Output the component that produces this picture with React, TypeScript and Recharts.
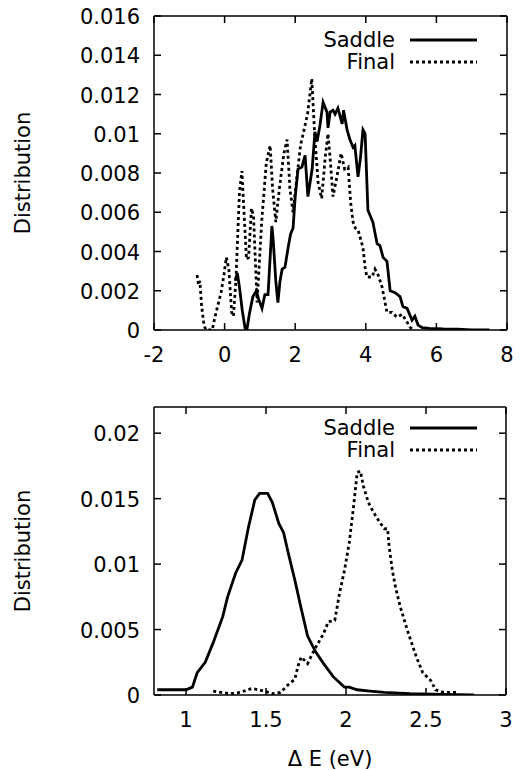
import React from "react";
import { LineChart, Line, XAxis, YAxis } from "recharts";

// top panel: energy difference, broad range
const topSaddleE = [0.3, 0.36, 0.42, 0.5, 0.58, 0.63, 0.7, 0.8, 0.9, 0.96, 1.06, 1.14, 1.23, 1.3, 1.34, 1.38, 1.45, 1.51, 1.57, 1.63, 1.71, 1.8, 1.87, 1.94, 2.0, 2.08, 2.19, 2.28, 2.36, 2.48, 2.56, 2.62, 2.7, 2.79, 2.9, 2.93, 2.99, 3.07, 3.13, 3.21, 3.33, 3.37, 3.47, 3.55, 3.64, 3.69, 3.78, 3.85, 3.92, 3.98, 4.06, 4.2, 4.32, 4.4, 4.49, 4.6, 4.69, 4.83, 4.97, 5.05, 5.17, 5.31, 5.39, 5.48, 5.6, 5.8, 6.2, 6.6, 7.0, 7.5];
const topSaddleD = [0.0025, 0.0029, 0.0022, 0.001, 0.0001, 0, 0.0008, 0.0017, 0.002, 0.0016, 0.0011, 0.0018, 0.0018, 0.004, 0.0053, 0.0045, 0.0025, 0.0014, 0.0025, 0.0031, 0.0032, 0.0042, 0.0049, 0.0052, 0.0068, 0.0082, 0.0083, 0.0089, 0.0068, 0.0082, 0.0101, 0.0096, 0.0104, 0.0116, 0.0111, 0.0103, 0.0111, 0.0112, 0.011, 0.0113, 0.0105, 0.0112, 0.0102, 0.0097, 0.0093, 0.0094, 0.0078, 0.0088, 0.0102, 0.01, 0.0061, 0.0055, 0.0044, 0.0043, 0.0037, 0.0035, 0.002, 0.0019, 0.0017, 0.0012, 0.0011, 0.0005, 0.0007, 0.00025, 0.00012, 0.00008, 0.00005, 0.00004, 0.00001, 0];

const topFinalE = [-0.78, -0.74, -0.7, -0.65, -0.58, -0.52, -0.35, -0.28, -0.2, -0.1, -0.02, 0.05, 0.12, 0.2, 0.25, 0.32, 0.42, 0.49, 0.55, 0.62, 0.68, 0.76, 0.82, 0.92, 1.05, 1.18, 1.29, 1.36, 1.45, 1.55, 1.68, 1.77, 1.85, 1.94, 2.05, 2.15, 2.25, 2.35, 2.47, 2.55, 2.65, 2.75, 2.85, 2.93, 3.0, 3.07, 3.18, 3.3, 3.4, 3.5, 3.57, 3.64, 3.7, 3.78, 3.92, 3.98, 4.03, 4.18, 4.26, 4.35, 4.46, 4.6, 4.74, 4.88, 5.03, 5.17, 5.25, 5.35];
const topFinalD = [0.0028, 0.0023, 0.0025, 0.0012, 0.0002, 0, 0, 0.0006, 0.0012, 0.0019, 0.0028, 0.0037, 0.0031, 0.0009, 0.0007, 0.0025, 0.007, 0.0081, 0.006, 0.0036, 0.0037, 0.0062, 0.0058, 0.0014, 0.0055, 0.0085, 0.0094, 0.0072, 0.0055, 0.0072, 0.009, 0.0097, 0.0072, 0.006, 0.0078, 0.0094, 0.0102, 0.011, 0.0128, 0.01, 0.0075, 0.0067, 0.0088, 0.01, 0.0085, 0.0068, 0.0078, 0.009, 0.0082, 0.0083, 0.0065, 0.0055, 0.0052, 0.0051, 0.0042, 0.0032, 0.0027, 0.0027, 0.0031, 0.0028, 0.0022, 0.0009, 0.0009, 0.00066, 0.0008, 0.0004, 0.00015, 0];

// bottom panel
const botSaddleE = [0.82, 0.9, 1.0, 1.04, 1.07, 1.12, 1.17, 1.23, 1.26, 1.31, 1.35, 1.39, 1.43, 1.46, 1.51, 1.54, 1.58, 1.61, 1.64, 1.68, 1.72, 1.76, 1.81, 1.86, 1.92, 1.99, 2.02, 2.07, 2.15, 2.24, 2.4, 2.6, 2.8];
const botSaddleD = [0.0004, 0.0004, 0.0004, 0.0006, 0.0017, 0.0025, 0.004, 0.006, 0.0075, 0.0093, 0.0103, 0.0128, 0.0149, 0.0154, 0.0154, 0.0147, 0.0131, 0.0124, 0.0108, 0.0088, 0.0066, 0.0045, 0.0033, 0.0024, 0.0014, 0.0006, 0.0006, 0.0004, 0.0003, 0.0002, 0.0001, 0.00005, 0];

const botFinalE = [1.17, 1.22, 1.28, 1.34, 1.41, 1.45, 1.49, 1.54, 1.59, 1.64, 1.68, 1.7, 1.72, 1.76, 1.8, 1.86, 1.89, 1.93, 1.96, 1.99, 2.02, 2.05, 2.07, 2.09, 2.11, 2.14, 2.17, 2.21, 2.24, 2.26, 2.27, 2.29, 2.31, 2.34, 2.39, 2.44, 2.48, 2.53, 2.56, 2.61, 2.7];
const botFinalD = [0.0003, 0.0002, 0.0001, 0.0002, 0.0005, 0.0004, 0.0003, 0.0001, 0.0002, 0.0008, 0.0012, 0.0022, 0.0029, 0.0024, 0.0034, 0.0047, 0.0056, 0.0057, 0.0078, 0.0095, 0.0116, 0.0147, 0.017, 0.0171, 0.0159, 0.0147, 0.014, 0.0132, 0.0127, 0.0127, 0.0113, 0.0095, 0.0082, 0.0067, 0.0047, 0.0029, 0.0017, 0.0011, 0.0004, 0.0002, 0.0002];

const topXTicks = [-2, 0, 2, 4, 6, 8];
const topYTicks = [0, 0.002, 0.004, 0.006, 0.008, 0.01, 0.012, 0.014, 0.016];
const botXTicks = [1, 1.5, 2, 2.5, 3];
const botYTicks = [0, 0.005, 0.01, 0.015, 0.02];

const seriesNames = ["Saddle", "Final"];

const zip = (xs: number[], ys: number[]) => xs.map((x, i) => ({ x, y: ys[i] }));

const FONT = "'DejaVu Sans', sans-serif";
const FS = 21;
const DOTTED = "3 3";
const LW = 2.8;

const BottomTick = (props: any) => {
    const { x, y, payload } = props;
    return (
        <g>
            <line x1={x} x2={x} y1={y} y2={y - 7} stroke="#000" strokeWidth={1.5} />
            <text x={x} y={y + 32} textAnchor="middle" fontFamily={FONT} fontSize={FS} fill="#000">{payload.value}</text>
        </g>
    );
};

const TopTick = (props: any) => {
    const { x, y } = props;
    return <line x1={x} x2={x} y1={y} y2={y + 7} stroke="#000" strokeWidth={1.5} />;
};

const LeftTick = (props: any) => {
    const { x, y, payload } = props;
    return (
        <g>
            <line x1={x} x2={x + 7} y1={y} y2={y} stroke="#000" strokeWidth={1.5} />
            <text x={x - 14} y={y + 8} textAnchor="end" fontFamily={FONT} fontSize={FS} fill="#000">{payload.value}</text>
        </g>
    );
};

const RightTick = (props: any) => {
    const { x, y } = props;
    return <line x1={x} x2={x - 7} y1={y} y2={y} stroke="#000" strokeWidth={1.5} />;
};

const YLabel = (props: any) => {
    const { viewBox } = props;
    const cx = 23;
    const cy = viewBox.y + viewBox.height / 2;
    return (
        <text x={cx} y={cy} textAnchor="middle" dominantBaseline="central" transform={`rotate(-90, ${cx}, ${cy})`} fontFamily={FONT} fontSize={FS} fill="#000">
            Distribution
        </text>
    );
};

const XLabel = (props: any) => {
    const { viewBox } = props;
    const cx = viewBox.x + viewBox.width / 2;
    return (
        <text x={cx} y={viewBox.y + 71} textAnchor="middle" fontFamily={FONT} fontSize={FS} fill="#000">
            {"\u0394 E (eV)"}
        </text>
    );
};

const axisLine = { stroke: "#000", strokeWidth: 1.5 };

const Panel = ({ saddle, final, xDomain, yDomain, xTicks, yTicks, height, marginTop, marginRight, xAxisHeight, showXLabel }: any) => (
    <LineChart width={522} height={height} margin={{ top: marginTop, right: marginRight, left: 0, bottom: 0 }}>
        <XAxis dataKey="x" type="number" domain={xDomain} ticks={xTicks} allowDataOverflow height={xAxisHeight}
            axisLine={axisLine} tickLine={false} tickSize={0} tickMargin={0} tick={<BottomTick />} interval={0}
            label={showXLabel ? <XLabel /> : undefined} />
        <XAxis xAxisId="top" orientation="top" dataKey="x" type="number" domain={xDomain} ticks={xTicks} allowDataOverflow height={1}
            axisLine={axisLine} tickLine={false} tickSize={0} tickMargin={0} tick={<TopTick />} interval={0} />
        <YAxis type="number" domain={yDomain} ticks={yTicks} allowDataOverflow width={154}
            axisLine={axisLine} tickLine={false} tickSize={0} tickMargin={0} tick={<LeftTick />} interval={0}
            label={<YLabel />} />
        <YAxis yAxisId="right" orientation="right" type="number" domain={yDomain} ticks={yTicks} allowDataOverflow width={1}
            axisLine={axisLine} tickLine={false} tickSize={0} tickMargin={0} tick={<RightTick />} interval={0} />
        <Line data={saddle} dataKey="y" name={seriesNames[0]} type="linear" stroke="#000" strokeWidth={LW} dot={false} isAnimationActive={false} />
        <Line data={final} dataKey="y" name={seriesNames[1]} type="linear" stroke="#000" strokeWidth={LW} strokeDasharray={DOTTED} dot={false} isAnimationActive={false} />
    </LineChart>
);

const LegendBox = ({ top }: { top: number }) => (
    <svg width={522} height={60} style={{ position: "absolute", left: 0, top: top - 20, pointerEvents: "none" }}>
        {seriesNames.map((name, i) => (
            <g key={name}>
                <text x={395} y={20 + i * 22 + 7} textAnchor="end" fontFamily={FONT} fontSize={FS} fill="#000">{name}</text>
                <line x1={410} x2={477} y1={20 + i * 22} y2={20 + i * 22} stroke="#000" strokeWidth={LW} strokeDasharray={i === 1 ? DOTTED : undefined} />
            </g>
        ))}
    </svg>
);

export default function App() {
    return (
        <div style={{ position: "absolute", left: 0, top: 0, width: 522, height: 770, background: "#fff" }}>
            <div style={{ position: "absolute", left: 0, top: 0 }}>
                <Panel saddle={zip(topSaddleE, topSaddleD)} final={zip(topFinalE, topFinalD)}
                    xDomain={[-2, 8]} yDomain={[0, 0.016]} xTicks={topXTicks} yTicks={topYTicks}
                    height={380} marginTop={15} marginRight={14} xAxisHeight={50} showXLabel={false} />
            </div>
            <div style={{ position: "absolute", left: 0, top: 380 }}>
                <Panel saddle={zip(botSaddleE, botSaddleD)} final={zip(botFinalE, botFinalD)}
                    xDomain={[0.8, 3]} yDomain={[0, 0.022]} xTicks={botXTicks} yTicks={botYTicks}
                    height={390} marginTop={26} marginRight={15} xAxisHeight={75} showXLabel={true} />
            </div>
            <LegendBox top={40} />
            <LegendBox top={428} />
        </div>
    );
}
